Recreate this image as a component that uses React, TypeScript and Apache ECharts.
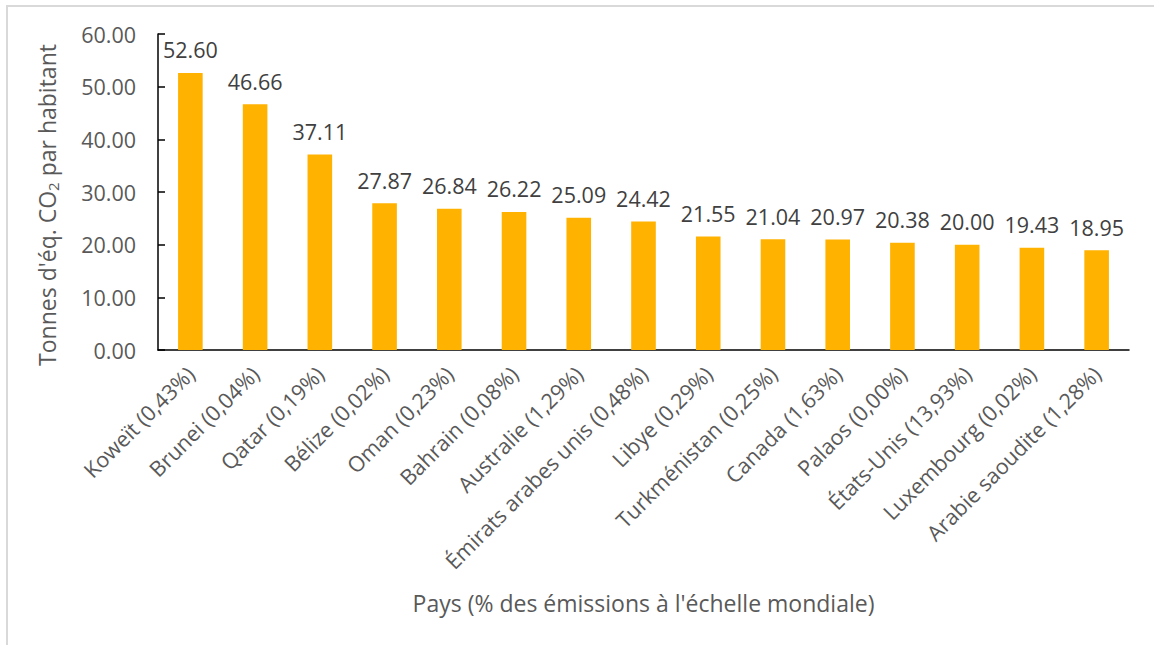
import React, { useEffect, useRef } from "react";
import * as echarts from "echarts";

// Countries and their share of world emissions
const countries = [
  "Koweït",
  "Brunei",
  "Qatar",
  "Bélize",
  "Oman",
  "Bahrain",
  "Australie",
  "Émirats arabes unis",
  "Libye",
  "Turkménistan",
  "Canada",
  "Palaos",
  "États-Unis",
  "Luxembourg",
  "Arabie saoudite",
];
const worldShares = [
  "0,43%", "0,04%", "0,19%", "0,02%", "0,23%", "0,08%", "1,29%", "0,48%",
  "0,29%", "0,25%", "1,63%", "0,00%", "13,93%", "0,02%", "1,28%",
];
// Tonnes of CO2 equivalent per inhabitant
const perCapita = [
  52.6, 46.66, 37.11, 27.87, 26.84, 26.22, 25.09, 24.42, 21.55, 21.04, 20.97,
  20.38, 20.0, 19.43, 18.95,
];
const yMin = 0;
const yMax = 60;
const yStep = 10;

const FONT = "'Open Sans', 'Noto Sans', sans-serif";
const GREY = "#595959";

export default function App() {
  const ref = useRef<HTMLDivElement>(null);

  useEffect(() => {
    if (!ref.current) return;
    const chart = echarts.init(ref.current, null, { renderer: "svg" });
    const categories = countries.map((c, i) => `${c} (${worldShares[i]})`);

    chart.setOption({
      animation: false,
      backgroundColor: "#ffffff",
      textStyle: { fontFamily: FONT },
      graphic: [
        {
          type: "rect",
          shape: { x: 7, y: 6, width: 1300, height: 800 },
          style: { fill: "none", stroke: "#D9D9D9", lineWidth: 2 },
          silent: true,
        },
      ],
      grid: { left: 158, right: 25, top: 34, bottom: 295, containLabel: false },
      xAxis: {
        type: "category",
        data: categories,
        axisLine: { show: true, lineStyle: { color: "#000000", width: 1.5 } },
        axisTick: { show: false },
        axisLabel: {
          rotate: 45,
          interval: 0,
          margin: 20,
          fontSize: 21.5,
          color: GREY,
          fontFamily: FONT,
        },
        name: "Pays (% des émissions à l'échelle mondiale)",
        nameLocation: "middle",
        nameGap: 241,
        nameTextStyle: { fontSize: 23, color: GREY, fontFamily: FONT },
      },
      yAxis: {
        type: "value",
        min: yMin,
        max: yMax,
        interval: yStep,
        splitLine: { show: false },
        axisLine: { show: true, lineStyle: { color: "#000000", width: 1.5 } },
        axisTick: { show: true, inside: true, length: 7, lineStyle: { color: "#000000", width: 1.5 } },
        axisLabel: {
          margin: 22,
          fontSize: 21.5,
          color: GREY,
          fontFamily: FONT,
          formatter: (v: number) => v.toFixed(2),
        },
        name: "Tonnes d'éq. CO{sub|2} par habitant",
        nameLocation: "middle",
        nameRotate: 90,
        nameGap: 98,
        nameTextStyle: {
          fontSize: 23,
          color: GREY,
          fontFamily: FONT,
          padding: [0, 26, 0, 0],
          rich: {
            sub: { fontSize: 15, color: GREY, fontFamily: FONT, padding: [11, 0, 0, 0] },
          },
        },
      },
      series: [
        {
          type: "bar",
          data: perCapita,
          barWidth: "38%",
          itemStyle: { color: "#FFB200" },
          label: {
            show: true,
            position: "top",
            distance: 12,
            fontSize: 21.5,
            color: "#404040",
            fontFamily: FONT,
            formatter: (p: any) => Number(p.value).toFixed(2),
          },
        },
      ],
    });

    return () => chart.dispose();
  }, []);

  return (
    <div
      ref={ref}
      style={{ position: "absolute", left: 0, top: 0, width: 1154, height: 645 }}
    />
  );
}
